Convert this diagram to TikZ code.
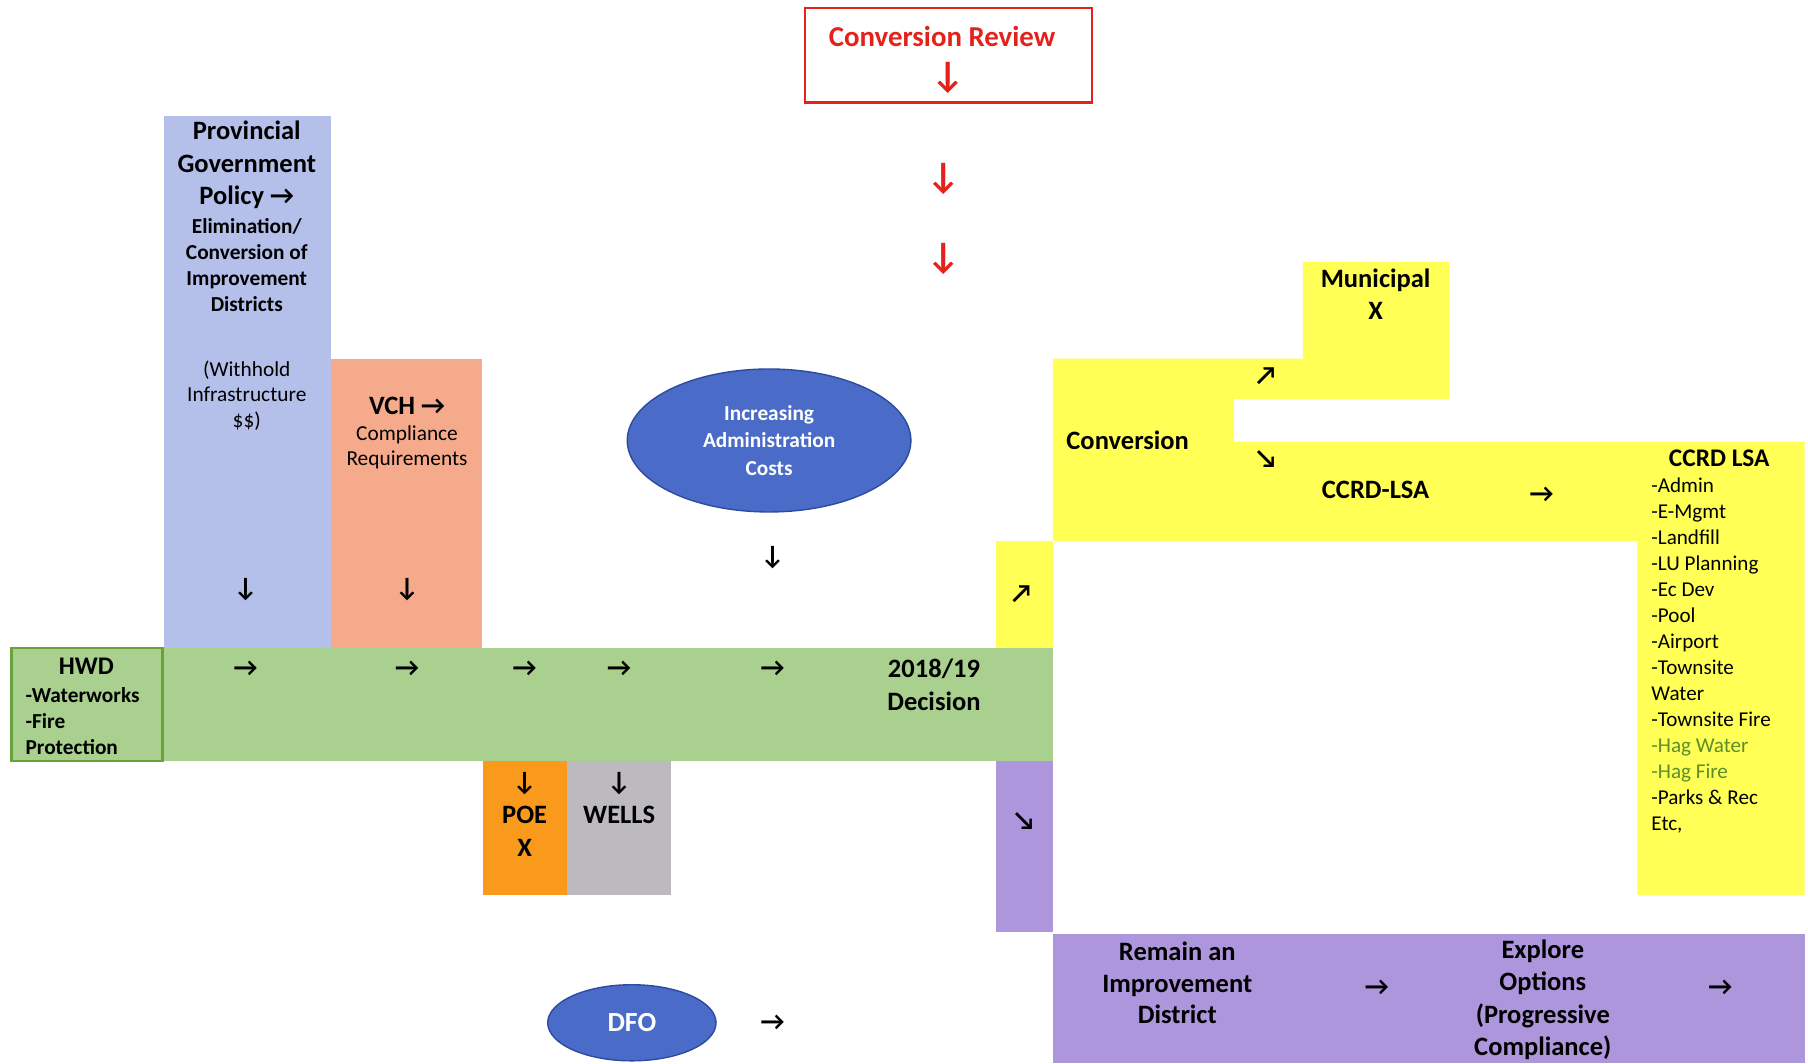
\documentclass[tikz,border=0pt]{standalone}
\usepackage{fontspec}
\setmainfont{Carlito}
\usetikzlibrary{shapes.geometric}
\definecolor{provblue}{HTML}{B4C0EA}
\definecolor{vchsalmon}{HTML}{F6AA8C}
\definecolor{grn}{HTML}{A9D08E}
\definecolor{grnborder}{HTML}{6AA23A}
\definecolor{poeorange}{HTML}{FA9A1C}
\definecolor{wellsgray}{HTML}{BDBABF}
\definecolor{yel}{HTML}{FFFF55}
\definecolor{purp}{HTML}{AD96DC}
\definecolor{ellblue}{HTML}{4A6CC8}
\definecolor{ellborder}{HTML}{2C4A9E}
\definecolor{rd}{HTML}{E3221C}
\definecolor{haggreen}{HTML}{5E8E2C}
\newcommand\fbig{\fontsize{23}{28}\selectfont\bfseries}
\newcommand\fmidb{\fontsize{18.5}{22.7}\selectfont\bfseries}
\newcommand\fmid{\fontsize{18.5}{22}\selectfont}
\begin{document}
\begin{tikzpicture}[x=1pt,y=-1pt,
  box/.style={rectangle,draw=none,inner sep=0pt,outer sep=0pt,anchor=north west},
  txt/.style={inner sep=0pt,align=center},
  ltxt/.style={inner sep=0pt,align=left,anchor=west},
  arr/.style={inner sep=0pt,font=\fontsize{23}{23}\selectfont\bfseries},
  rarr/.style={inner sep=0pt,text=rd,font=\fontsize{32}{32}\selectfont\bfseries},
  oval/.style={ellipse,fill=ellblue,draw=ellborder,line width=1.2pt,inner sep=0pt,text=white,align=center}]
\useasboundingbox (0,0) rectangle (1568,922);
\fill[white] (0,0) rectangle (1568,922);
% Conversion review
\node[box,draw=rd,line width=2pt,minimum width=249pt,minimum height=82pt] (crbox) at (698,7) {};
\node[txt,text=rd,font=\fontsize{25}{30}\selectfont\bfseries] (crtext) at (817,32) {Conversion Review};
\node[rarr] (ra1) at (822,68) {↓};
\node[rarr] (ra2) at (818,155) {↓};
\node[rarr] (ra3) at (818,225) {↓};
% left boxes
\node[box,fill=provblue,minimum width=145pt,minimum height=461pt] (prov) at (142,101) {};
\node[box,fill=vchsalmon,minimum width=131pt,minimum height=251pt] (vch) at (287,311) {};
\node[box,fill=grn,minimum width=771pt,minimum height=98pt] (strip) at (142,562) {};
\node[box,fill=grn,draw=grnborder,line width=2.5pt,minimum width=131pt,minimum height=98pt] (hwd) at (10,562) {};
\node[box,fill=poeorange,minimum width=73pt,minimum height=116pt] (poe) at (419,660) {};
\node[box,fill=wellsgray,minimum width=90pt,minimum height=116pt] (wells) at (492,660) {};
% right shapes
\fill[yel] (913,311) -- (1130,311) -- (1130,227) -- (1257,227) -- (1257,346) -- (1070,346)
  -- (1070,383) -- (1565,383) -- (1565,776) -- (1420,776) -- (1420,469) -- (913,469) -- cycle;
\node[box,fill=yel,minimum width=49pt,minimum height=93pt] (yelsmall) at (864,469) {};
\node[box,fill=purp,minimum width=49pt,minimum height=148pt] (purpsmall) at (864,660) {};
\node[box,fill=purp,minimum width=652pt,minimum height=112pt] (purpbar) at (913,810) {};
% ellipses
\node[oval,minimum width=246pt,minimum height=124pt,font=\fmidb,execute at begin node={\setlength{\baselineskip}{24pt}}] (admin) at (667,382) {Increasing\\Administration\\Costs};
\node[oval,minimum width=146pt,minimum height=66pt,font=\fontsize{24}{28}\selectfont\bfseries] (dfo) at (548,887) {DFO};
% texts in left boxes
\node[txt,font=\fbig] (provt1) at (214,143) {Provincial\\Government\\Policy →};
\node[txt,font=\fmidb] (provt2) at (214,230) {Elimination/\\Conversion of\\Improvement\\Districts};
\node[txt,font=\fmid] (provt3) at (214,343) {(Withhold\\Infrastructure\\\$\$)};
\node[txt,font=\fbig] (vcht1) at (353,352) {VCH →};
\node[txt,font=\fmid] (vcht2) at (353,388) {Compliance\\Requirements};
\node[arr] (a1) at (213,511) {↓};
\node[arr] (a2) at (353,511) {↓};
\node[arr] (a3) at (670,484) {↓};
% HWD
\node[txt,font=\fontsize{22}{26}\selectfont\bfseries] (hwdt) at (75,578) {HWD};
\node[ltxt,font=\fontsize{18.5}{22.5}\selectfont\bfseries] (hwdl) at (22,625.5) {-Waterworks\\-Fire\\Protection};
% green row arrows
\node[arr] (g1) at (213,580) {→};
\node[arr] (g2) at (353,580) {→};
\node[arr] (g3) at (455,580) {→};
\node[arr] (g4) at (537,580) {→};
\node[arr] (g5) at (670,580) {→};
\node[txt,font=\fbig] (dec) at (810,594) {2018/19\\Decision};
% POE / WELLS
\node[arr] (pa) at (455,680) {↓};
\node[txt,font=\fbig] (poet) at (455,707) {POE};
\node[txt,font=\fbig] (poex) at (455,735) {X};
\node[arr] (wa) at (537,680) {↓};
\node[txt,font=\fbig] (wellst) at (537,707) {WELLS};
% DFO arrow
\node[arr] (da) at (670,887) {→};
% yellow area
\node[arr] (ya) at (886,515) {↗};
\node[arr] (pda) at (888,712) {↘};
\node[txt,font=\fbig] (conv) at (978,382) {Conversion};
\node[arr] (cu) at (1098,326) {↗};
\node[arr] (cd) at (1098,398) {↘};
\node[txt,font=\fbig] (muni) at (1193,255) {Municipal\\X};
\node[txt,font=\fbig] (ccrd) at (1193,425) {CCRD-LSA};
\node[arr] (ca) at (1337,429) {→};
\node[txt,font=\fontsize{22}{26}\selectfont\bfseries] (ccrdh) at (1491,397) {CCRD LSA};
\node[ltxt,font=\fontsize{18.3}{22.54}\selectfont] (ccrdl) at (1432,568.5) {-Admin\\-E-Mgmt\\-Landfill\\-LU Planning\\-Ec Dev\\-Pool\\-Airport\\-Townsite\\Water\\-Townsite Fire\\\textcolor{haggreen}{-Hag Water}\\\textcolor{haggreen}{-Hag Fire}\\-Parks \& Rec\\Etc,};
% purple bar
\node[txt,font=\fontsize{23}{27.5}\selectfont\bfseries] (remain) at (1021,852.5) {Remain an\\Improvement\\District};
\node[arr] (pb1) at (1194,857) {→};
\node[txt,font=\fbig] (explore) at (1338,867) {Explore\\Options\\(Progressive\\Compliance)};
\node[arr] (pb2) at (1492,857) {→};
\end{tikzpicture}
\end{document}
